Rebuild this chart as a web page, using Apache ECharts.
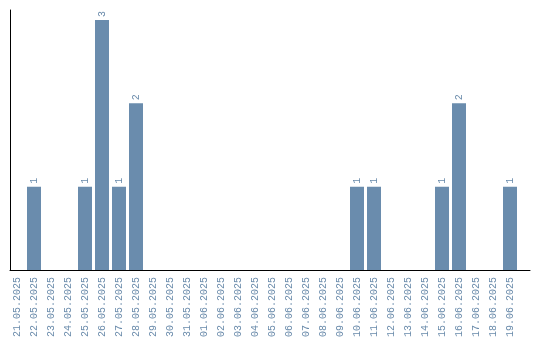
<!DOCTYPE html>
<html><head><meta charset="utf-8">
<script src="https://cdn.jsdelivr.net/npm/echarts@6/dist/echarts.min.js"></script>
<style>html,body{margin:0;padding:0;background:#fff}#c{width:540px;height:340px}</style>
</head><body><div id="c"></div>
<script>
const categories = ["21.05.2025","22.05.2025","23.05.2025","24.05.2025","25.05.2025","26.05.2025","27.05.2025","28.05.2025","29.05.2025","30.05.2025","31.05.2025","01.06.2025","02.06.2025","03.06.2025","04.06.2025","05.06.2025","06.06.2025","07.06.2025","08.06.2025","09.06.2025","10.06.2025","11.06.2025","12.06.2025","13.06.2025","14.06.2025","15.06.2025","16.06.2025","17.06.2025","18.06.2025","19.06.2025"];
const counts = [0,1,0,0,1,3,1,2,0,0,0,0,0,0,0,0,0,0,0,0,1,1,0,0,0,1,2,0,0,1];
const chart = echarts.init(document.getElementById('c'), null, {renderer:'canvas'});
chart.setOption({
  animation:false,
  grid:[
    {left:8.5, top:20, width:510, bottom:70, containLabel:false},
    {left:10, top:10, right:10, bottom:70, containLabel:false}
  ],
  xAxis:[
    {type:'category', data:categories, gridIndex:0,
      axisLine:{show:false},
      axisTick:{show:false},
      axisLabel:{rotate:90, interval:0, color:'#6a8bab', fontFamily:'Liberation Mono', fontSize:10, margin:7}
    },
    {type:'value', gridIndex:1, min:0, max:1,
      axisLine:{show:true, lineStyle:{color:'#000', width:1}},
      axisTick:{show:false}, axisLabel:{show:false}, splitLine:{show:false}}
  ],
  yAxis:[
    {type:'value', gridIndex:0, min:0, max:3,
      axisLine:{show:false}, axisTick:{show:false}, axisLabel:{show:false}, splitLine:{show:false}},
    {type:'value', gridIndex:1, min:0, max:1,
      axisLine:{show:true, lineStyle:{color:'#000', width:1}},
      axisTick:{show:false}, axisLabel:{show:false}, splitLine:{show:false}}
  ],
  series:[{type:'bar', xAxisIndex:0, yAxisIndex:0, data:counts.map(v=>v===0?null:v), barWidth:14,
    itemStyle:{color:'#6a8cad'},
    label:{show:true, position:'top', rotate:90, align:'left', verticalAlign:'middle', distance:3,
      color:'#6a8bab', fontFamily:'Liberation Mono', fontSize:10}
  }]
});
</script></body></html>
